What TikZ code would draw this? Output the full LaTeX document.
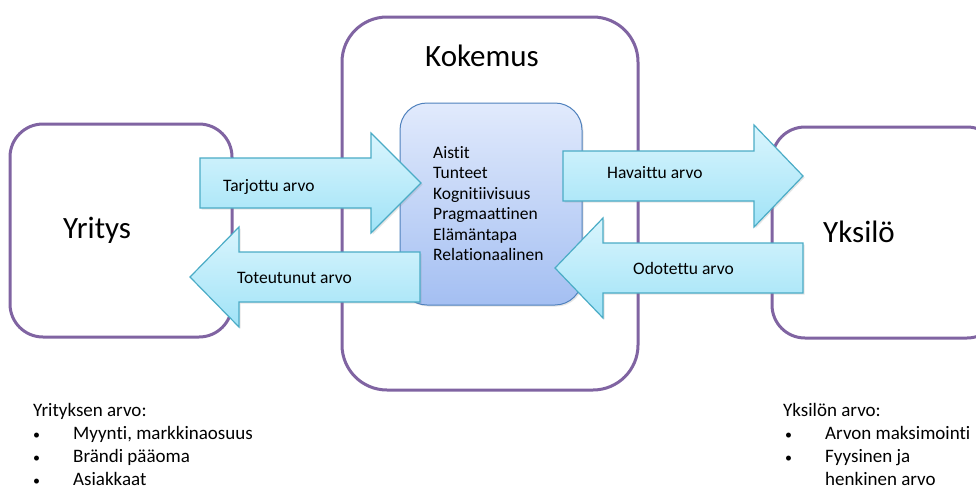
\documentclass[tikz,border=0pt]{standalone}
\usepackage{fontspec}
\setmainfont{Carlito}[Ligatures=NoCommon]
\usetikzlibrary{shadows}

\definecolor{frameline}{HTML}{8064A2}
\definecolor{flowline}{HTML}{4BACC6}
\definecolor{flowtop}{HTML}{DAF5FD}
\definecolor{flowbot}{HTML}{A0E3F7}
\definecolor{coreline}{HTML}{4F81BD}
\definecolor{coretop}{HTML}{E1EAFC}
\definecolor{corebot}{HTML}{A4BFF2}

\tikzset{
  framebox/.style={draw=frameline, line width=3pt, fill=white},
  corebox/.style={draw=coreline, line width=1pt, top color=coretop, bottom color=corebot,
    rounded corners=27pt, drop shadow={opacity=0.2, shadow xshift=1.5pt, shadow yshift=-1.5pt}},
  flow/.style={draw=flowline, line width=1.2pt, top color=flowtop, bottom color=flowbot,
    line join=miter, drop shadow={opacity=0.2, shadow xshift=1.5pt, shadow yshift=-1.5pt}},
  bigtext/.style={font=\fontsize{31}{37}\selectfont, inner sep=0pt, anchor=base west},
  midtext/.style={font=\fontsize{17.5}{20.5}\selectfont, inner sep=0pt, anchor=base west},
  listtext/.style={font=\fontsize{19}{23}\selectfont, inner sep=0pt, anchor=base west},
  bullettext/.style={font=\fontsize{14}{23}\selectfont, inner sep=0pt, anchor=base west},
}

\begin{document}
\begin{tikzpicture}[x=1pt, y=-1pt]
  \useasboundingbox (0,0) rectangle (976,488);
  \clip (0,0) rectangle (976,488);

  % outer frames
  \node[framebox, rounded corners=33pt, minimum width=222pt, minimum height=213pt] (yritys) at (121,230.5) {};
  \node[framebox, rounded corners=33pt, minimum width=228pt, minimum height=211pt] (yksilo) at (886,232.5) {};
  \node[framebox, rounded corners=45pt, minimum width=296pt, minimum height=373pt] (kokemus) at (490,203.5) {};

  \node[bigtext] (yrityslabel) at (63,238) {Yritys};
  \node[bigtext] (yksilolabel) at (823,242) {Yksilö};
  \node[bigtext] (kokemuslabel) at (425,66) {Kokemus};

  % experience dimensions
  \node[corebox, minimum width=182pt, minimum height=202pt] (core) at (491,204) {};
  \foreach \t [count=\i] in {Aistit, Tunteet, Kognitiivisuus, Pragmaattinen, Elämäntapa, Relationaalinen}
    \node[midtext] (aspect\i) at (433,{158+20.5*(\i-1)}) {\t};

  % value flows
  \path[flow] (200,158) -- (371,158) -- (371,133) -- (421,183) -- (371,233) -- (371,208) -- (200,208) -- cycle;
  \path[flow] (420,252) -- (239,252) -- (239,227) -- (190,277) -- (239,327) -- (239,302) -- (420,302) -- cycle;
  \path[flow] (563,151) -- (754,151) -- (754,125) -- (803,176) -- (754,227) -- (754,201) -- (563,201) -- cycle;
  \path[flow] (803,243) -- (603,243) -- (603,218) -- (555,268) -- (603,318) -- (603,293) -- (803,293) -- cycle;

  \node[midtext] (tarjottu) at (223,191) {Tarjottu arvo};
  \node[midtext] (toteutunut) at (237,283) {Toteutunut arvo};
  \node[midtext] (havaittu) at (607,178) {Havaittu arvo};
  \node[midtext] (odotettu) at (633,274) {Odotettu arvo};

  % value lists
  \node[listtext] (yvalue) at (33,416) {Yrityksen arvo:};
  \foreach \t [count=\i] in {{Myynti, markkinaosuus}, Brändi pääoma, Asiakkaat} {
    \node[bullettext] (ybullet\i) at (33,{416+23*\i}) {•};
    \node[listtext] (yitem\i) at (73,{416+23*\i}) {\t};
  }

  \node[listtext] (kvalue) at (783,416) {Yksilön arvo:};
  \node[bullettext] (kbullet1) at (785,439) {•};
  \node[listtext] (kitem1) at (825,439) {Arvon maksimointi};
  \node[bullettext] (kbullet2) at (785,462) {•};
  \node[listtext] (kitem2) at (825,462) {Fyysinen ja};
  \node[listtext] (kitem3) at (825,485) {henkinen arvo};
\end{tikzpicture}
\end{document}
